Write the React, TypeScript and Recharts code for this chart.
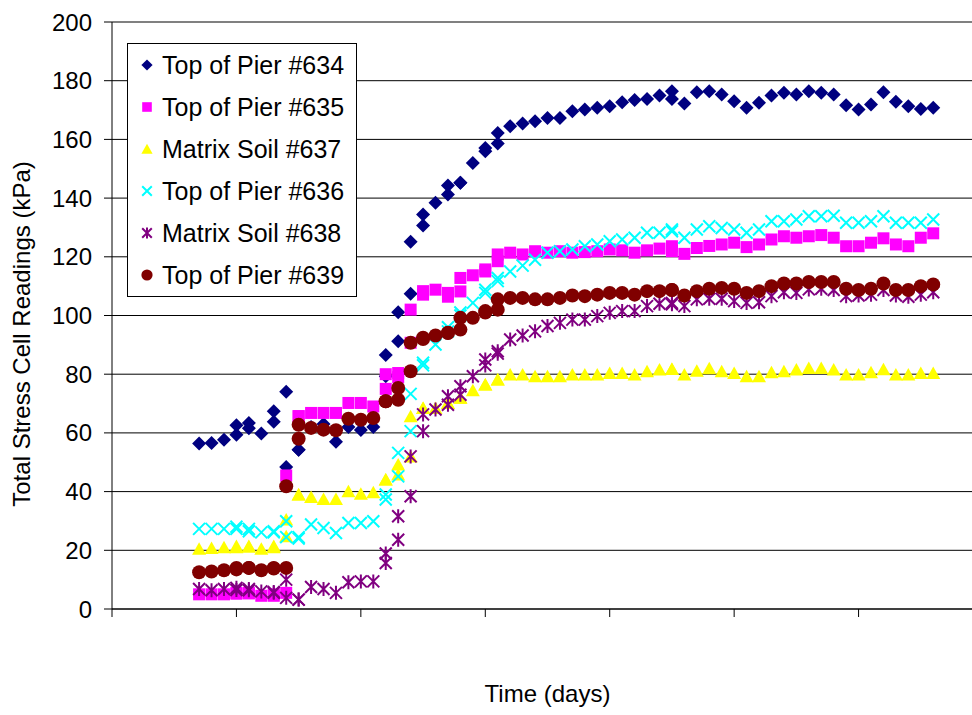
import React from 'react';
import {
  ScatterChart,
  Scatter,
  XAxis,
  YAxis,
  CartesianGrid,
  ReferenceLine,
  Legend,
} from 'recharts';

// reading days (some days carry two readings)
const days = [
  7, 8, 9, 10, 10, 11, 11, 12, 13, 13, 14, 14, 15, 15, 16, 17, 18, 19, 20, 21,
  22, 22, 23, 23, 24, 24, 25, 25, 26, 27, 27, 28, 28, 29, 30, 30, 31, 31,
  32, 33, 34, 35, 36, 37, 38, 39, 40, 41, 42, 43, 44, 45, 45,
  46, 47, 48, 49, 50, 51, 52, 53, 54, 55, 56, 57, 58, 59, 60, 61, 62, 63, 64, 65, 66,
];

const pier634 = [
  56.4, 56.6, 57.7, 62.6, 59.4, 63.4, 61.6, 59.8, 67.4, 63.8, 74, 48.4, 54.3, 54.3, 62, 63, 57, 62, 61, 62,
  79.3, 86.5, 91.2, 101.1, 107.4, 125.1, 130.7, 134.4, 138.4, 144.3, 141.2, 145.2, 145.2, 152, 157.1, 156, 162.2, 158.6,
  164.5, 165.4, 166.2, 167.3, 167.3, 169.6, 170.2, 170.8, 171.3, 172.7, 173.4, 173.8, 175, 176.4, 173.8,
  172.2, 176.1, 176.4, 175.3, 173, 170.8, 172.5, 175, 175.9, 175.3, 176.4, 175.9, 175.3, 171.6, 170.2, 171.9, 176.1, 172.8, 171.3, 170.4, 170.8,
];

const pier635 = [
  5, 5, 5, 5.5, 5.2, 5.5, 5.3, 4.5, 4.5, 5, 5.5, 45.5, 65.7, 65.7, 66.8, 66.8, 66.8, 70.2, 70.2, 69,
  75, 80, 80.4, 79, 90.7, 102, 107.1, 108.3, 108.8, 106.4, 107.7, 108.2, 112.8, 113.7, 115.7, 115, 118.5, 120.8,
  121.4, 120.8, 121.9, 121.4, 121.9, 121.4, 121.6, 121.9, 122.5, 122.2, 121.4, 122.2, 122.8, 123.6, 121.9,
  121, 123, 123.7, 124.2, 124.8, 123.3, 124.2, 125.9, 127, 126.5, 127, 127.4, 126.5, 123.6, 123.6, 124.8, 126.3, 124.2, 123.6, 126.5, 128,
];

const soil637 = [
  20.5, 20.8, 21, 21.5, 21, 21.5, 21.2, 20.5, 21.5, 21, 30.5, 24.8, 39, 39, 38.2, 37.5, 37.5, 40.1, 39.3, 39.8,
  44.1, 44.1, 49.2, 45.8, 65.7, 52, 68.5, 68.5, 68.5, 70.2, 70.2, 72, 72, 74.5, 76.5, 76.5, 78.2, 78.2,
  79.9, 79.9, 79.3, 79.3, 79.3, 79.9, 79.9, 79.9, 80.4, 80.4, 79.9, 81, 81.6, 81.8, 81.8,
  79.9, 81.2, 82, 81, 80.4, 79.3, 79.3, 80.7, 81, 81.6, 82.1, 82.1, 81.6, 79.9, 79.9, 80.7, 81.7, 79.9, 79.9, 80.4, 80.4,
];

const pier636 = [
  27.3, 27.3, 27.3, 27.3, 28, 27.3, 26.5, 26.1, 26.1, 26.5, 29.9, 24.5, 24, 24.5, 28.8, 27.6, 25.9, 29.3, 29.3, 29.9,
  37.3, 39, 45.2, 53.2, 60.6, 73.3, 83.9, 83, 90.1, 94.6, 96, 100, 101, 104.3, 107.7, 108.8, 111.7, 112.8,
  115, 117, 119, 121.4, 121.9, 122.5, 123.6, 124.2, 125.3, 125.9, 126.5, 128.2, 128.2, 128.7, 129.3,
  126.5, 129.3, 130.4, 129.8, 129.3, 128.2, 129.3, 132.1, 132.1, 132.7, 133.8, 133.8, 134, 131.6, 131.6, 132.1, 133.8, 131.6, 131.6, 131.6, 132.7,
];

const soil638 = [
  6.8, 6.4, 6.8, 7.2, 6.5, 6.4, 6.8, 6, 5.5, 5.8, 10, 3.8, 3.2, 3.2, 7.5, 6.8, 5.5, 9.1, 9.4, 9.4,
  15.7, 18.9, 23.6, 31.6, 38.4, 52, 60.6, 66.3, 68, 69.6, 72.5, 73, 75.9, 79.3, 85, 83, 87.8, 87,
  91.8, 93.2, 94.6, 96.4, 97.5, 98.6, 98.6, 99.8, 100.9, 101.5, 101.5, 103.2, 104, 104.3, 103.8,
  103.2, 105.5, 105.7, 105.7, 104.9, 104.3, 104.5, 106.6, 107.9, 107.7, 108.9, 109.1, 108.7, 106.6, 106.8, 107.1, 108.7, 106.8, 106.4, 107.1, 107.9,
];

const pier639 = [
  12.5, 12.8, 13.2, 14, 13.5, 14, 14, 13.2, 14, 13.8, 14, 41.8, 58, 62.8, 61.7, 61.1, 60.9, 64.8, 64.5, 65.1,
  70.8, 70.8, 75.3, 71.3, 81, 90.7, 92.4, 92, 93.2, 94.1, 94, 95.2, 99.2, 99.2, 101.5, 101, 102, 105.5,
  106, 106, 105.5, 105.5, 106, 106.8, 106.6, 107.1, 107.7, 107.7, 107.1, 108.3, 108.3, 108.7, 108.7,
  106.8, 108.3, 109.1, 109.4, 109.1, 107.7, 108.3, 110, 110.9, 110.9, 111.4, 111.4, 111.4, 109.1, 108.7, 109.1, 110.9, 108.7, 108.7, 110, 110.6,
];

const yTicks = [0, 20, 40, 60, 80, 100, 120, 140, 160, 180, 200];
const xTicks = [0, 10, 20, 30, 40, 50, 60, 70];

const FONT = '"Liberation Sans", Arial, sans-serif';

type Kind = 'diamond' | 'square' | 'triangle' | 'x' | 'star' | 'circle';

const SERIES: { name: string; values: number[]; color: string; kind: Kind }[] = [
  { name: 'Top of Pier #634', values: pier634, color: '#000080', kind: 'diamond' },
  { name: 'Top of Pier #635', values: pier635, color: '#FF00FF', kind: 'square' },
  { name: 'Matrix Soil #637', values: soil637, color: '#FFFF00', kind: 'triangle' },
  { name: 'Top of Pier #636', values: pier636, color: '#00FFFF', kind: 'x' },
  { name: 'Matrix Soil #638', values: soil638, color: '#800080', kind: 'star' },
  { name: 'Top of Pier #639', values: pier639, color: '#800000', kind: 'circle' },
];

function Marker({
  kind,
  cx,
  cy,
  color,
  k = 1,
}: {
  kind: Kind;
  cx: number;
  cy: number;
  color: string;
  k?: number;
}) {
  if (cx == null || cy == null) return null;
  const d = 7 * k;
  const h = 6 * k;
  switch (kind) {
    case 'diamond':
      return (
        <polygon points={`${cx},${cy - d} ${cx + d},${cy} ${cx},${cy + d} ${cx - d},${cy}`} fill={color} />
      );
    case 'square':
      return <rect x={cx - h} y={cy - h} width={2 * h} height={2 * h} fill={color} />;
    case 'triangle':
      return (
        <polygon
          points={`${cx},${cy - 6.5 * k} ${cx + d},${cy + 6 * k} ${cx - d},${cy + 6 * k}`}
          fill={color}
        />
      );
    case 'x':
      return (
        <path
          d={`M${cx - h},${cy - h}L${cx + h},${cy + h}M${cx - h},${cy + h}L${cx + h},${cy - h}`}
          stroke={color}
          strokeWidth={2}
          fill="none"
        />
      );
    case 'star':
      return (
        <path
          d={`M${cx - h},${cy - h}L${cx + h},${cy + h}M${cx - h},${cy + h}L${cx + h},${cy - h}M${cx},${cy - d}L${cx},${cy + d}`}
          stroke={color}
          strokeWidth={2}
          fill="none"
        />
      );
    default:
      return <circle cx={cx} cy={cy} r={7 * k} fill={color} />;
  }
}

function LegendBox() {
  return (
    <div
      style={{
        width: 228,
        border: '1px solid #000',
        background: '#fff',
        fontFamily: FONT,
        fontSize: 25,
        color: '#000',
      }}
    >
      {SERIES.map((s) => (
        <div key={s.name} style={{ height: 42, display: 'flex', alignItems: 'center' }}>
          <svg width={34} height={42} style={{ flex: 'none' }}>
            <Marker kind={s.kind} cx={19} cy={21} color={s.color} k={0.8} />
          </svg>
          <span style={{ whiteSpace: 'nowrap' }}>{s.name}</span>
        </div>
      ))}
    </div>
  );
}

const emptyTick = () => <g />;

export default function App() {
  return (
    <div
      style={{
        position: 'absolute',
        left: 0,
        top: 0,
        width: 972,
        height: 715,
        overflow: 'hidden',
        background: '#fff',
      }}
    >
      <ScatterChart width={1000} height={715} margin={{ top: 22, right: 17, bottom: 0, left: 0 }}>
        <CartesianGrid vertical={false} stroke="#000" strokeWidth={1} />
        <XAxis
          type="number"
          dataKey="x"
          domain={[0, 70]}
          ticks={xTicks}
          interval={0}
          tick={emptyTick}
          tickSize={8}
          height={106}
          stroke="#000"
          axisLine={{ stroke: '#000' }}
          tickLine={{ stroke: '#000' }}
          label={{
            content: (props: any) => {
              const vb = props.viewBox || { x: 112, width: 871, y: 609 };
              return (
                <text
                  x={vb.x + vb.width / 2}
                  y={702}
                  textAnchor="middle"
                  fontFamily={FONT}
                  fontSize={24}
                  fill="#000"
                >
                  Time (days)
                </text>
              );
            },
          }}
        />
        <YAxis
          type="number"
          dataKey="y"
          domain={[0, 200]}
          ticks={yTicks}
          interval={0}
          width={112}
          tickSize={8}
          tickMargin={12}
          axisLine={{ stroke: '#000' }}
          tickLine={{ stroke: '#000' }}
          tick={{ fill: '#000', fontSize: 24, fontFamily: FONT }}
          label={{
            content: () => (
              <text
                x={0}
                y={0}
                transform="translate(30 334) rotate(-90)"
                textAnchor="middle"
                fontFamily={FONT}
                fontSize={24}
                fill="#000"
              >
                Total Stress Cell Readings (kPa)
              </text>
            ),
          }}
        />
        <ReferenceLine y={200} stroke="#808080" strokeWidth={2} />
        {SERIES.map((s) => (
          <Scatter
            key={s.name}
            name={s.name}
            data={days.map((d, i) => ({ x: d, y: s.values[i] }))}
            fill={s.color}
            isAnimationActive={false}
            shape={(p: any) => <Marker kind={s.kind} cx={p.cx} cy={p.cy} color={s.color} />}
          />
        ))}
        <Legend
          layout="vertical"
          align="center"
          verticalAlign="middle"
          wrapperStyle={{ left: 127, top: 43, width: 230 }}
          content={() => <LegendBox />}
        />
      </ScatterChart>
    </div>
  );
}
